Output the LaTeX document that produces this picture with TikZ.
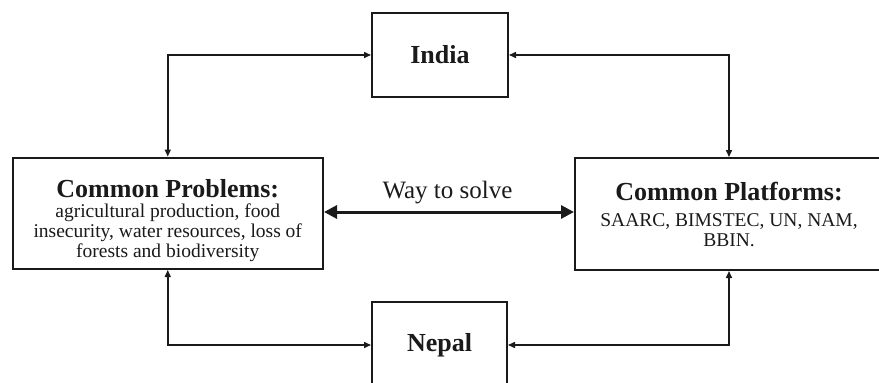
\documentclass[tikz,border=0pt]{standalone}
\usepackage{fontspec}
\setmainfont{Liberation Serif}
\usetikzlibrary{arrows.meta}
\definecolor{ink}{HTML}{1A1A1A}
\tikzset{
  box/.style={draw=ink, line width=2pt, inner sep=0pt, fill=white},
  boxtext/.style={inner sep=0pt, align=center, text=ink, anchor=north,
    font=\fontsize{19.5}{20}\selectfont},
  head/.style={font=\fontsize{26}{26}\selectfont\bfseries, text=ink, inner sep=0pt},
  conn/.style={draw=ink, line width=1.5pt,
    {Triangle[length=7pt,width=6pt]}-{Triangle[length=7pt,width=6pt]}},
  bigconn/.style={draw=ink, line width=3pt,
    {Triangle[length=13pt,width=13pt]}-{Triangle[length=13pt,width=13pt]}},
}
\begin{document}
\begin{tikzpicture}[x=1pt,y=-1pt]
\useasboundingbox (0,0) rectangle (879,383);
\clip (0,0) rectangle (879,383);
% boxes
\node[box, minimum width=136pt, minimum height=84pt] (india) at (440,55) {};
\node[head] (indiat) at (india.center) {India};
\node[box, minimum width=135pt, minimum height=86pt] (nepal) at (439.5,345) {};
\node[head] (nepalt) at (nepal.center) {Nepal};
\node[box, minimum width=310.5pt, minimum height=111.5pt] (prob) at (167.75,213.25) {};
\node[boxtext] (probt) at (167.75,179.4) {{\fontsize{26}{20}\selectfont\bfseries Common Problems:}\\
  agricultural production, food\\
  insecurity, water resources, loss of\\
  forests and biodiversity};
\node[box, minimum width=308pt, minimum height=112pt] (plat) at (729,214) {};
\node[boxtext] (platt) at (729,182) {{\fontsize{26}{20}\selectfont\bfseries Common Platforms:}\\[6pt]
  SAARC, BIMSTEC, UN, NAM,\\
  BBIN.};
% connectors
\draw[conn] (prob.north) |- (india.west);
\draw[conn] (india.east) -| (plat.north);
\draw[conn] (prob.south) |- (nepal.west);
\draw[conn] (plat.south) |- (nepal.east);
\coordinate (wayy) at (0,212);
\draw[bigconn] (prob.east |- wayy) -- (plat.west |- wayy);
\node[anchor=base, inner sep=0pt, text=ink, font=\fontsize{25}{25}\selectfont] (way) at (447.5,198) {Way to solve};
\end{tikzpicture}
\end{document}
